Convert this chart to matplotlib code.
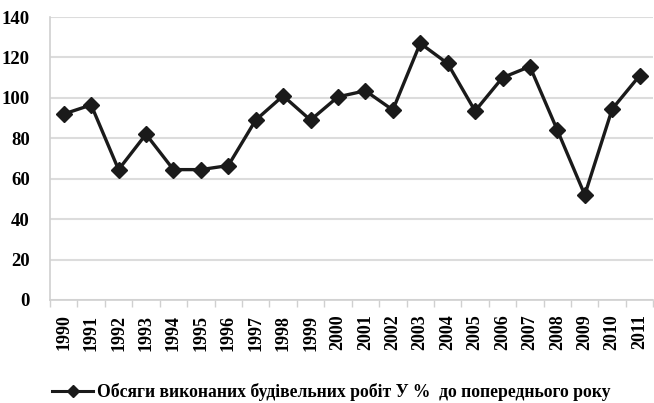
import matplotlib
matplotlib.use("Agg")
import matplotlib.pyplot as plt
from matplotlib.lines import Line2D
import numpy as np

years = [str(y) for y in range(1990, 2012)]
values = [92, 96.5, 64.5, 82, 64.5, 64.5, 66.5, 89, 101, 89,
          100.5, 103.5, 94, 127, 117, 93.5, 110, 115.5, 84, 52, 94.5, 111]
y_ticks = [0, 20, 40, 60, 80, 100, 120, 140]
legend_label = "Обсяги виконаних будівельних робіт У %  до попереднього року"

plt.rcParams['font.family'] = ['Liberation Serif', 'DejaVu Serif']
plt.rcParams['font.weight'] = 'bold'

fig = plt.figure(figsize=(6.54, 4.03), dpi=100)
ax = fig.add_axes([50/654, 1-300/403, 1-50/654-0.001, (300-17)/403])

x = np.arange(len(years))
ax.plot(x, values, color='#1a1a1a', lw=2.4, marker='D', ms=8.5,
        markerfacecolor='#1a1a1a', markeredgecolor='#1a1a1a')

ax.set_xlim(-0.5, len(years) - 0.5)
ax.set_ylim(0, 140)
ax.set_yticks(y_ticks)
ax.set_yticklabels([str(v) for v in y_ticks], fontsize=13.5, fontweight='bold')
ax.tick_params(axis='y', length=0, pad=14.5)

ax.set_xticks(np.arange(len(years) + 1) - 0.5)
ax.set_xticklabels([])
ax.set_xticks(x, minor=True)
ax.set_xticklabels(years, minor=True, rotation=90, fontsize=13, fontweight='bold')
ax.tick_params(axis='x', which='major', length=5, color='#d0d0d0', width=1)
ax.tick_params(axis='x', which='minor', length=0, pad=10.5)

ax.grid(axis='y', color='#dcdcdc', lw=1.5)
ax.set_axisbelow(True)
for s in ['top', 'right']:
    ax.spines[s].set_visible(False)
ax.spines['left'].set_color('#d0d0d0')
ax.spines['bottom'].set_color('#d0d0d0')
ax.spines['left'].set_linewidth(1.2)
ax.spines['bottom'].set_linewidth(1.2)

handle = Line2D([], [], color='#1a1a1a', lw=2.2, marker='D', ms=6.5,
                markerfacecolor='#1a1a1a', markeredgecolor='#1a1a1a')
fig.legend(handles=[handle], labels=[legend_label], loc='center left',
           bbox_to_anchor=(52/654, 1-392/403), frameon=False,
           handlelength=2.35, handletextpad=0.22, borderpad=0, borderaxespad=0,
           prop={'weight': 'bold', 'size': 12.7})

fig.savefig('out.png', dpi=100)
